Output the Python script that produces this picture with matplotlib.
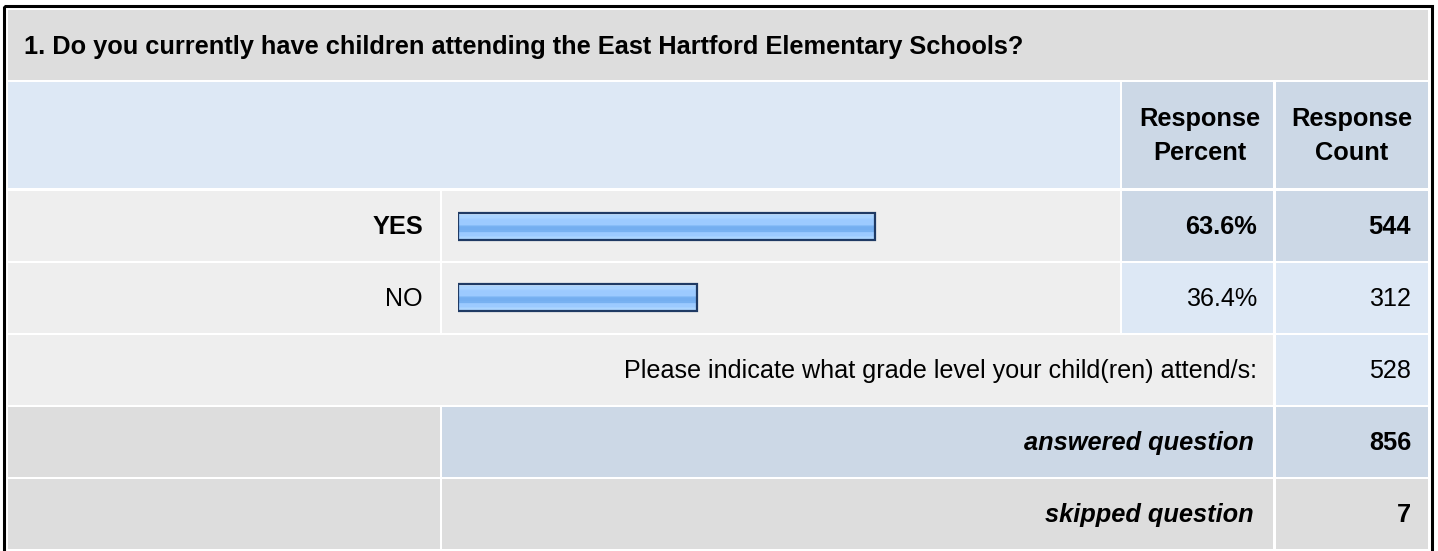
import matplotlib
matplotlib.use('Agg')
import matplotlib.pyplot as plt
from matplotlib.patches import Rectangle
import numpy as np

plt.rcParams['font.family'] = ['Liberation Sans', 'DejaVu Sans']

# data
question = '1. Do you currently have children attending the East Hartford Elementary Schools?'
answers = ['YES', 'NO']
percents = [63.6, 36.4]
counts = [544, 312]
other_label = 'Please indicate what grade level your child(ren) attend/s:'
other_count = 528
answered = 856
skipped = 7

W, H = 1438, 551
fig = plt.figure(figsize=(W / 100, H / 100), dpi=100)
ax = fig.add_axes([0, 0, 1, 1])
ax.set_xlim(0, W)
ax.set_ylim(H, 0)
ax.axis('off')

GREY = '#dddddd'
LIGHT = '#eeeeee'
BLUE = '#dde8f5'
DBLUE = '#ccd8e6'
FS = 18.1
FSB = 18.3

def cell(x0, x1, y0, y1, color):
    ax.add_patch(Rectangle((x0, y0), x1 - x0, y1 - y0, facecolor=color, edgecolor='none'))

# outer frame
ax.add_patch(Rectangle((4, 6), 1428, 560, facecolor='none', edgecolor='black', lw=2.2))

cols = [(8, 440), (442, 1120), (1122, 1273), (1276, 1428)]
rows = [(10, 80), (82, 188), (191, 261), (263, 333), (335, 405), (407, 477), (479, 549)]

# title
cell(8, 1428, *rows[0], GREY)
ax.text(24, 47, question, fontsize=FSB, fontweight='bold', va='center', ha='left')

# header
cell(8, 1120, *rows[1], BLUE)
cell(*cols[2], *rows[1], DBLUE)
cell(*cols[3], *rows[1], DBLUE)
ym = sum(rows[1]) / 2 + 1
ax.text(sum(cols[2]) / 2 + 2, ym, 'Response\nPercent', fontsize=FSB, fontweight='bold',
        ha='center', va='center', linespacing=1.55)
ax.text(sum(cols[3]) / 2, ym, 'Response\nCount', fontsize=FSB, fontweight='bold',
        ha='center', va='center', linespacing=1.55)

# answer rows
top_i = int(np.argmax(counts))
for i, (lab, p, c) in enumerate(zip(answers, percents, counts)):
    r = rows[2 + i]
    ym = sum(r) / 2 + 1
    wt = 'bold' if i == top_i else 'normal'
    fs = FSB if i == top_i else FS
    side = DBLUE if i == top_i else BLUE
    cell(*cols[0], *r, LIGHT)
    cell(*cols[1], *r, LIGHT)
    cell(*cols[2], *r, side)
    cell(*cols[3], *r, side)
    ax.text(423, ym, lab, fontsize=fs, fontweight=wt, ha='right', va='center')
    ax.text(1257, ym, f'{p:.1f}%', fontsize=fs, fontweight=wt, ha='right', va='center')
    ax.text(1411, ym, str(c), fontsize=fs, fontweight=wt, ha='right', va='center')

# other row
r = rows[4]
cell(8, 1273, *r, LIGHT)
cell(*cols[3], *r, BLUE)
ax.text(1257, sum(r) / 2 + 1, other_label, fontsize=FS, ha='right', va='center')
ax.text(1411, sum(r) / 2 + 1, str(other_count), fontsize=FS, ha='right', va='center')

# answered / skipped
r = rows[5]
cell(*cols[0], *r, GREY)
cell(442, 1273, *r, DBLUE)
cell(*cols[3], *r, DBLUE)
ax.text(1254, sum(r) / 2 + 1, 'answered question', fontsize=FSB, fontweight='bold',
        style='italic', ha='right', va='center')
ax.text(1411, sum(r) / 2 + 1, str(answered), fontsize=FSB, fontweight='bold', ha='right', va='center')

r = rows[6]
cell(*cols[0], *r, GREY)
cell(442, 1273, *r, GREY)
cell(*cols[3], *r, GREY)
ax.text(1254, sum(r) / 2 + 1, 'skipped question', fontsize=FSB, fontweight='bold',
        style='italic', ha='right', va='center')
ax.text(1411, sum(r) / 2 + 1, str(skipped), fontsize=FSB, fontweight='bold', ha='right', va='center')

# bars
bax = fig.add_axes([458 / W, 1 - 333 / H, (1114 - 458) / W, 142 / H])
bax.axis('off')
bars = bax.barh(range(len(answers)), percents, height=0.39, facecolor='none',
                edgecolor='#1f3a64', lw=1.6, zorder=3)
grad = ['#c9e4ff', '#c9e4ff', '#a9d3ff', '#a9d3ff', '#a3cfff', '#9ecbff', '#9ccaff',
        '#9ccaff', '#9ccaff', '#88bdf8', '#78b1f1', '#74aef0', '#74aef0', '#78b1f1',
        '#96c6fd', '#9ccaff', '#9ccaff', '#a4d0ff', '#acd5ff', '#acd5ff']
img = np.array([[matplotlib.colors.to_rgb(g)] for g in grad])
for b in bars:
    x0, y0 = b.get_x(), b.get_y()
    bax.imshow(img, extent=(x0, x0 + b.get_width(), y0 + b.get_height(), y0),
               aspect='auto', origin='upper', interpolation='nearest', zorder=2)
bax.set_xlim(0, 100)
bax.set_ylim(len(answers) - 0.5, -0.5)

fig.savefig('out.png', dpi=100, facecolor='white')
